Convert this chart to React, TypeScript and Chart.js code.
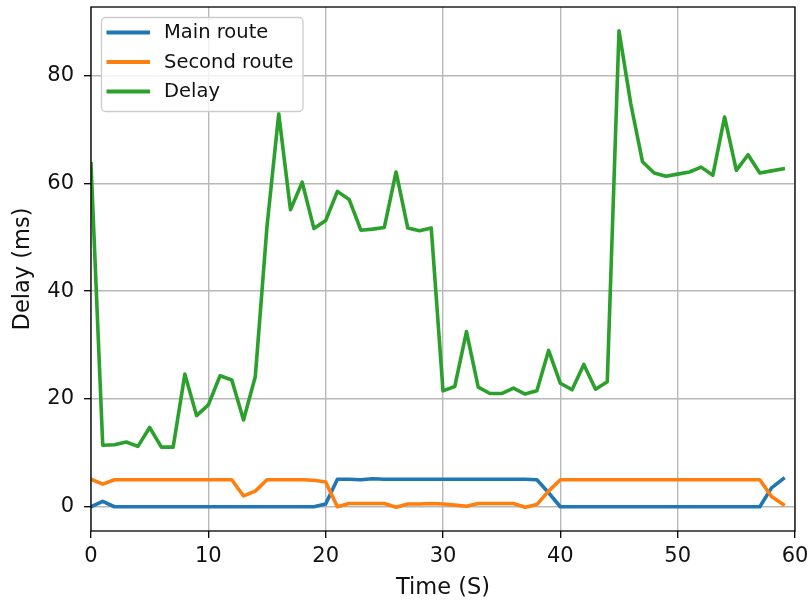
import React, { useEffect, useRef } from 'react';
import { Chart, registerables } from 'chart.js';

Chart.register(...registerables);

// ---- data ----
const times = [
  0, 1, 2, 3, 4, 5, 6, 7, 8, 9, 10, 11, 12, 13, 14, 15, 16, 17, 18, 19,
  20, 21, 22, 23, 24, 25, 26, 27, 28, 29, 30, 31, 32, 33, 34, 35, 36, 37, 38, 39,
  40, 41, 42, 43, 44, 45, 46, 47, 48, 49, 50, 51, 52, 53, 54, 55, 56, 57, 58, 59,
];

const mainRoute = [
  0, 1.0, 0, 0, 0, 0, 0, 0, 0, 0, 0, 0, 0, 0, 0, 0, 0, 0, 0, 0,
  0.5, 5.1, 5.1, 5.0, 5.2, 5.1, 5.1, 5.1, 5.1, 5.1, 5.1, 5.1, 5.1, 5.1, 5.1, 5.1, 5.1, 5.1, 5.0, 2.6,
  0, 0, 0, 0, 0, 0, 0, 0, 0, 0, 0, 0, 0, 0, 0, 0, 0, 0, 3.5, 5.2,
];

const secondRoute = [
  5.1, 4.2, 5.0, 5.0, 5.0, 5.0, 5.0, 5.0, 5.0, 5.0, 5.0, 5.0, 5.0, 2.0, 2.9, 5.0, 5.0, 5.0, 5.0, 4.9,
  4.6, 0.0, 0.6, 0.6, 0.6, 0.6, -0.1, 0.5, 0.5, 0.6, 0.5, 0.3, 0.1, 0.6, 0.6, 0.6, 0.6, -0.1, 0.4, 2.9,
  5.0, 5.0, 5.0, 5.0, 5.0, 5.0, 5.0, 5.0, 5.0, 5.0, 5.0, 5.0, 5.0, 5.0, 5.0, 5.0, 5.0, 5.0, 1.9, 0.4,
];

const delay = [
  63.6, 11.4, 11.5, 12.0, 11.2, 14.7, 11.05, 11.05, 24.6, 16.9, 18.9, 24.3, 23.5, 16.1, 24.1,
  52.0, 72.9, 55.1, 60.2, 51.6, 53.1, 58.5, 57.0, 51.3, 51.5, 51.8, 62.1, 51.7, 51.2, 51.7,
  21.5, 22.3, 32.5, 22.2, 21.0, 21.0, 22.0, 20.9, 21.5, 29.0, 22.9, 21.7, 26.4, 21.8, 23.2,
  88.3, 74.8, 64.0, 61.9, 61.3, 61.7, 62.1, 63.0, 61.5, 72.3, 62.4, 65.3, 61.9, 62.3, 62.7,
];

const seriesLabels = ['Main route', 'Second route', 'Delay'];
const seriesColors = ['#1f77b4', '#ff7f0e', '#2ca02c'];
const xTicks = [0, 10, 20, 30, 40, 50, 60];
const yTicks = [0, 20, 40, 60, 80];
const xTitle = 'Time (S)';
const yTitle = 'Delay (ms)';

const FONT = '"DejaVu Sans", Verdana, sans-serif';
const TEXT = '#111111';
const GRID = '#b8b8b8';

const toPoints = (ys: number[]) => ys.map((y, i) => ({ x: times[i], y }));

const framePlugin = {
  id: 'frameBox',
  afterDatasetsDraw(chart: any) {
    const { ctx, chartArea: a } = chart;
    ctx.save();
    ctx.strokeStyle = '#000';
    ctx.lineWidth = 1.3;
    ctx.strokeRect(a.left, a.top, a.right - a.left, a.bottom - a.top);
    ctx.restore();
  },
};

const boxLegendPlugin = {
  id: 'boxLegend',
  afterDraw(chart: any) {
    const { ctx, chartArea: a } = chart;
    const x0 = a.left + 10.5;
    const y0 = a.top + 10.5;
    const w = 201.5;
    const h = 94;
    ctx.save();
    ctx.beginPath();
    if (ctx.roundRect) ctx.roundRect(x0, y0, w, h, 4);
    else ctx.rect(x0, y0, w, h);
    ctx.fillStyle = 'rgba(255,255,255,0.8)';
    ctx.fill();
    ctx.strokeStyle = '#cccccc';
    ctx.lineWidth = 1.3;
    ctx.stroke();
    const labels = seriesLabels;
    labels.forEach((lab, i) => {
      const y = y0 + 15 + i * 29.5;
      ctx.beginPath();
      ctx.moveTo(x0 + 5, y);
      ctx.lineTo(x0 + 48.5, y);
      ctx.strokeStyle = seriesColors[i];
      ctx.lineWidth = 4;
      ctx.lineCap = 'butt';
      ctx.stroke();
      ctx.fillStyle = TEXT;
      ctx.font = `19.5px ${FONT}`;
      ctx.textAlign = 'left';
      ctx.textBaseline = 'middle';
      ctx.fillText(lab, x0 + 62.5, y + 0.5);
    });
    ctx.restore();
  },
};

export default function App() {
  const canvasRef = useRef<HTMLCanvasElement | null>(null);

  useEffect(() => {
    const canvas = canvasRef.current;
    if (!canvas) return;
    const series = [mainRoute, secondRoute, delay];
    const chart = new Chart(canvas, {
      type: 'line',
      data: {
        datasets: series.map((ys, i) => ({
          label: seriesLabels[i],
          data: toPoints(ys),
          borderColor: seriesColors[i],
          backgroundColor: seriesColors[i],
          borderWidth: 3.6,
          pointRadius: 0,
          tension: 0,
          fill: false,
          borderJoinStyle: 'round' as const,
          borderCapStyle: 'square' as const,
          order: 3 - i,
        })),
      },
      options: {
        responsive: false,
        animation: false,
        events: [],
        layout: { padding: { left: 0, right: 14, top: 7, bottom: 0 } },
        plugins: {
          legend: { display: false },
          tooltip: { enabled: false },
        },
        scales: {
          x: {
            type: 'linear',
            min: 0,
            max: 60,
            afterBuildTicks: (s: any) => {
              s.ticks = xTicks.map((v) => ({ value: v }));
            },
            afterFit: (s: any) => {
              s.height = 72;
              s.paddingLeft = 0;
              s.paddingRight = 0;
            },
            border: { display: false },
            grid: {
              color: GRID,
              lineWidth: 1.4,
              drawTicks: true,
              tickLength: 7,
              tickColor: '#000',
              tickWidth: 1.3,
            },
            ticks: {
              font: { family: FONT, size: 21 },
              color: TEXT,
              padding: 6,
              maxRotation: 0,
              autoSkip: false,
              callback: (v: any) => String(v),
            },
            title: {
              display: true,
              text: xTitle,
              font: { family: FONT, size: 22.5 },
              color: TEXT,
              padding: { top: 0, bottom: 1.5 },
            },
          },
          y: {
            type: 'linear',
            min: -4.5,
            max: 92.7,
            afterBuildTicks: (s: any) => {
              s.ticks = yTicks.map((v) => ({ value: v }));
            },
            afterFit: (s: any) => {
              s.width = 91;
              s.paddingTop = 0;
              s.paddingBottom = 0;
            },
            border: { display: false },
            grid: {
              color: GRID,
              lineWidth: 1.4,
              drawTicks: true,
              tickLength: 7,
              tickColor: '#000',
              tickWidth: 1.3,
            },
            ticks: {
              font: { family: FONT, size: 21 },
              color: TEXT,
              padding: 10,
              autoSkip: false,
              callback: (v: any) => String(v),
            },
            title: {
              display: true,
              text: yTitle,
              font: { family: FONT, size: 22.5 },
              color: TEXT,
              padding: { top: 9.5, bottom: 0 },
            },
          },
        },
      },
      plugins: [framePlugin, boxLegendPlugin],
    } as any);
    return () => chart.destroy();
  }, []);

  return (
    <div style={{ position: 'absolute', left: 0, top: 0, width: 809, height: 603, background: '#fff' }}>
      <canvas ref={canvasRef} width={809} height={603} style={{ display: 'block' }} />
    </div>
  );
}
